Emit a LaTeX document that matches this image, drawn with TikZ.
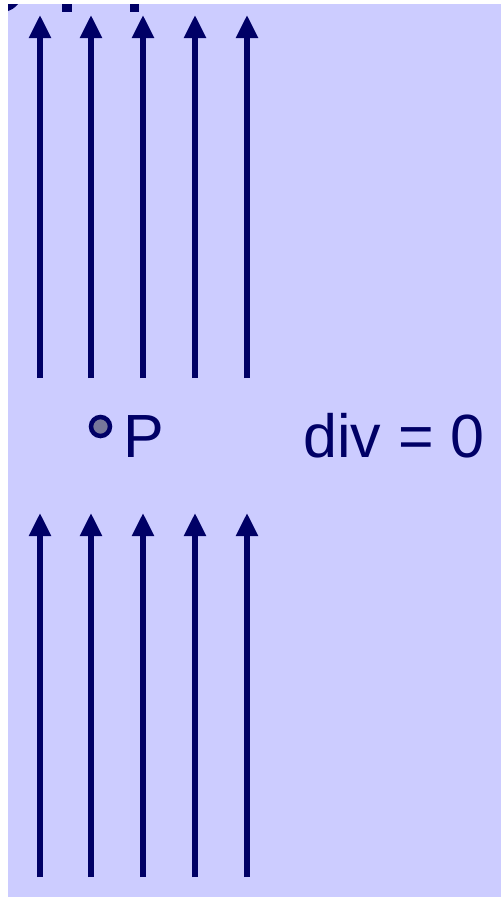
\documentclass[tikz,border=0pt]{standalone}
\usepackage{fontspec}
\setmainfont{Liberation Sans}
\usetikzlibrary{arrows.meta}
\definecolor{bgl}{HTML}{CCCCFF}
\definecolor{navy}{HTML}{000066}
\definecolor{dotgrey}{HTML}{77779A}
\tikzset{
  fieldline/.style={draw=navy, line width=5.5pt, -{Triangle[length=23pt,width=21pt]}},
  lbl/.style={text=navy, inner sep=0pt, font=\fontsize{61}{70}\selectfont},
}
\begin{document}
\begin{tikzpicture}[x=1pt,y=-1pt]
\useasboundingbox (0,0) rectangle (502,897);
\fill[white] (0,0) rectangle (502,897);
\fill[bgl] (8,4) rectangle (501,897);
% fragments at top edge
\fill[navy] (62,4) rectangle (72,12);
\fill[navy] (130,4) rectangle (139,12);
\fill[navy] (8,4) -- (18,4) .. controls (15,8) and (11,10) .. (8,11) -- cycle;
% field lines
\foreach \i/\x in {1/40,2/91,3/143,4/195,5/247}{
  \coordinate (ta\i) at (\x,378);
  \coordinate (tb\i) at (\x,15);
  \coordinate (ba\i) at (\x,877);
  \coordinate (bb\i) at (\x,513);
  \draw[fieldline] (ta\i) -- (tb\i);
  \draw[fieldline] (ba\i) -- (bb\i);
}
% point P
\node[circle, draw=navy, line width=4.5pt, fill=dotgrey, minimum size=19pt, inner sep=0pt] (dot) at (100.5,426.5) {};
\node[lbl, anchor=base west] (P) at (123,457) {P};
\node[lbl, anchor=base west] (div) at (303,457) {div = 0};
\end{tikzpicture}
\end{document}
